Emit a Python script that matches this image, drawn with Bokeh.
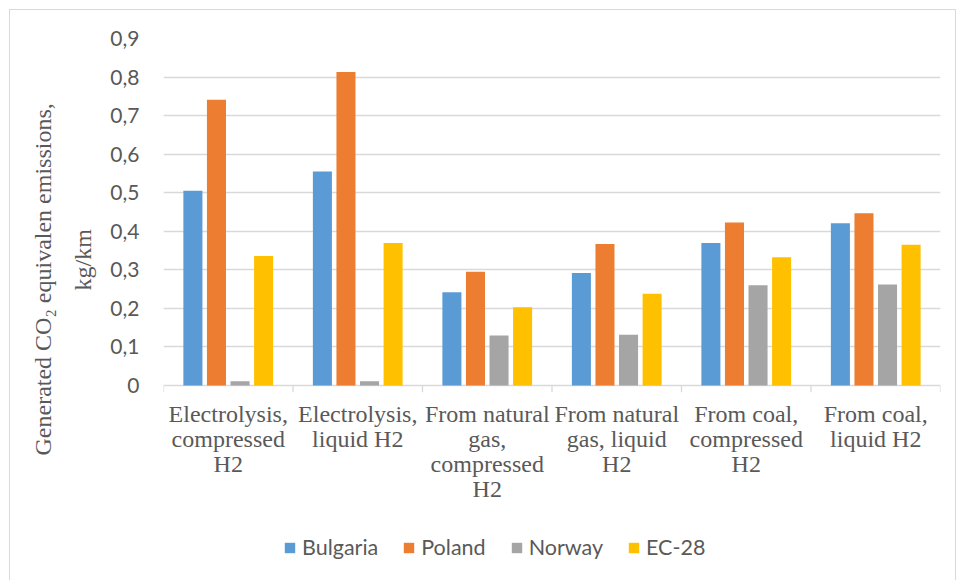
from bokeh.embed import file_html
from bokeh.resources import INLINE
from bokeh.plotting import figure
from bokeh.layouts import column
from bokeh.models import (ColumnDataSource, FactorRange, FixedTicker, CustomJSTickFormatter,
                          Title, Legend, LegendItem)
from bokeh.transform import dodge

# Hydrogen production routes (line breaks as shown under the axis)
categories = [
    "Electrolysis,\ncompressed\nH2",
    "Electrolysis,\nliquid H2",
    "From natural\ngas,\ncompressed\nH2",
    "From natural\ngas, liquid\nH2",
    "From coal,\ncompressed\nH2",
    "From coal,\nliquid H2",
]

# Generated CO2 equivalent emissions, kg/km
bulgaria = [0.505, 0.555, 0.242, 0.292, 0.370, 0.421]
poland = [0.741, 0.813, 0.295, 0.367, 0.423, 0.447]
norway = [0.011, 0.011, 0.130, 0.132, 0.260, 0.262]
ec28 = [0.336, 0.370, 0.203, 0.238, 0.333, 0.365]

series_names = ["Bulgaria", "Poland", "Norway", "EC-28"]
series_colors = ["#5B9BD5", "#ED7D31", "#A5A5A5", "#FFC000"]

y_ticks = [0, 0.1, 0.2, 0.3, 0.4, 0.5, 0.6, 0.7, 0.8, 0.9]

source = ColumnDataSource(data={
    "category": categories,
    "Bulgaria": bulgaria,
    "Poland": poland,
    "Norway": norway,
    "EC-28": ec28,
})

TEXT = "#595959"
GRID = "#d9d9d9"

p = figure(
    x_range=FactorRange(factors=categories),
    y_range=(-0.018, 0.9),
    frame_width=777, frame_height=354,
    output_backend="svg", toolbar_location=None,
    min_border_left=153, min_border_right=15,
    min_border_top=28, min_border_bottom=138,
)
p.outline_line_color = None
p.background_fill_color = "white"
p.border_fill_color = "white"

# grouped bars
offsets = [-0.273, -0.091, 0.091, 0.273]
for name, color, off in zip(series_names, series_colors, offsets):
    p.vbar(x=dodge("category", off, range=p.x_range), top=name, width=0.147,
           source=source, fill_color=color, line_color=None)

# category separator ticks below the zero line
edge_left = ColumnDataSource(data={"category": categories})
p.segment(x0=dodge("category", -0.5, range=p.x_range), x1=dodge("category", -0.5, range=p.x_range),
          y0=0, y1=-0.018, source=edge_left, line_color=GRID, line_width=1.3)
edge_right = ColumnDataSource(data={"category": [categories[-1]]})
p.segment(x0=dodge("category", 0.5, range=p.x_range), x1=dodge("category", 0.5, range=p.x_range),
          y0=0, y1=-0.018, source=edge_right, line_color=GRID, line_width=1.3)

# y axis
p.yaxis.ticker = FixedTicker(ticks=y_ticks)
p.yaxis.formatter = CustomJSTickFormatter(
    code="return tick == 0 ? '0' : tick.toFixed(1).replace('.', ',');")
p.yaxis.axis_line_color = None
p.yaxis.major_tick_line_color = None
p.yaxis.minor_tick_line_color = None
p.yaxis.major_tick_out = 0
p.yaxis.major_tick_in = 0
p.yaxis.major_label_standoff = 24
p.yaxis.major_label_text_font = "Lato"
p.yaxis.major_label_text_font_size = "21px"
p.yaxis.major_label_text_color = TEXT

p.ygrid.ticker = FixedTicker(ticks=y_ticks)
p.ygrid.grid_line_color = GRID
p.ygrid.grid_line_width = 1.3
p.xgrid.grid_line_color = None

# x axis
p.xaxis.axis_line_color = None
p.xaxis.major_tick_line_color = None
p.xaxis.major_tick_out = 0
p.xaxis.major_tick_in = 0
p.xaxis.major_label_standoff = 8
p.xaxis.major_label_orientation = "horizontal"
p.xaxis.major_label_text_font = "Liberation Serif"
p.xaxis.major_label_text_font_size = "24px"
p.xaxis.major_label_text_color = TEXT
p.xaxis.major_label_text_line_height = 0.97

# y axis title, two centred lines
p.add_layout(Title(text="kg/km", align="left", offset=102, standoff=24,
                   text_font="Liberation Serif", text_font_size="24px",
                   text_font_style="normal", text_color=TEXT), "left")
p.add_layout(Title(text="Generated CO\u2082 equivalen emissions,", align="left", offset=-63,
                   standoff=0, text_font="Liberation Serif", text_font_size="24px",
                   text_font_style="normal", text_color=TEXT), "left")

# legend strip under the chart
key = figure(width=945, height=50, x_range=(0, 1), y_range=(0, 1),
             x_axis_type=None, y_axis_type=None,
             output_backend="svg", toolbar_location=None,
             min_border=0, min_border_left=0, min_border_right=0,
             min_border_top=0, min_border_bottom=0)
key.outline_line_color = None
key.grid.grid_line_color = None
key.border_fill_color = "white"

# hidden copies of the series supply the legend swatches
items = []
for name, color in zip(series_names, series_colors):
    r = key.vbar(x=0.5, top=name, width=0.1, source=source,
                 fill_color=color, line_color=None, visible=False)
    items.append(LegendItem(label=name, renderers=[r]))

lg = Legend(items=items, orientation="horizontal", location=(120, 20),
            background_fill_color=None, border_line_color=None,
            inactive_fill_alpha=0,
            padding=0, margin=0, spacing=24,
            glyph_width=13, glyph_height=13, label_standoff=6,
            label_text_font="Lato", label_text_font_size="21.5px",
            label_text_color=TEXT)
key.add_layout(lg, "center")

page = column(p, key, spacing=0)
# thin chart border, open at the bottom
page.styles = {
    "margin-left": "9px", "margin-top": "9px",
    "border-left": "1px solid #d9d9d9",
    "border-top": "1px solid #d9d9d9",
    "border-right": "1px solid #d9d9d9",
}

open("out.html", "w").write(file_html(page, INLINE))
